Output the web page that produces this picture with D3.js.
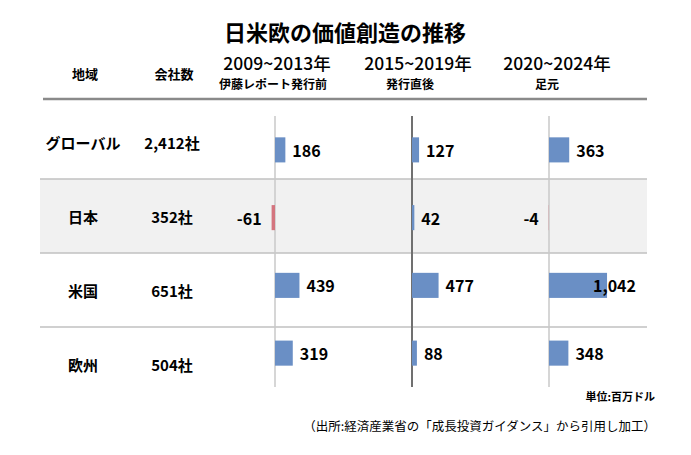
<!DOCTYPE html>
<html>
<head>
<meta charset="utf-8">
<script src="https://cdn.jsdelivr.net/npm/d3@7"></script>
<style>
  body { margin: 0; background: #fff; }
  text { font-family: "Noto Sans CJK JP", "Noto Sans", sans-serif; fill: #000; }
</style>
</head>
<body>
<div id="chart"></div>
<script>
// data
var regions = ["グローバル", "日本", "米国", "欧州"];
var companies = ["2,412社", "352社", "651社", "504社"];
var periods = ["2009~2013年", "2015~2019年", "2020~2024年"];
var periodNotes = ["伊藤レポート発行前", "発行直後", "足元"];
var values2009 = [186, -61, 439, 319];
var values2015 = [127, 42, 477, 88];
var values2020 = [363, -4, 1042, 348];
var allValues = [values2009, values2015, values2020];

var w = 691, h = 455;
var blue = "#6a8fc5", red = "#d4757f";
var fmt = d3.formatLocale({decimal: ".", thousands: ",", grouping: [3], currency: ["", ""], minus: "-"}).format(",");

var svg = d3.select("#chart").append("svg")
  .attr("width", w)
  .attr("height", h);

svg.append("rect").attr("width", w).attr("height", h).attr("fill", "#fff");

// scales
var xPeriod = d3.scaleBand().domain(periods).range([275, 686]);
var xVal = d3.scaleLinear().domain([0, 1000]).range([0, 55.7]);
var yRow = d3.scaleBand().domain(regions).range([105, 401]);
var yBar = d3.scaleBand().domain(regions).range([116, 387]);
var barH = yBar.bandwidth() * 0.37;

// title
svg.append("text")
  .attr("x", 345).attr("y", 31)
  .attr("text-anchor", "middle").attr("dominant-baseline", "central")
  .attr("font-size", "22px").attr("font-weight", "bold")
  .text("日米欧の価値創造の推移");

// header labels
svg.append("text").attr("x", 85).attr("y", 73)
  .attr("text-anchor", "middle").attr("dominant-baseline", "central")
  .attr("font-size", "13px").attr("font-weight", "bold").text("地域");
svg.append("text").attr("x", 174).attr("y", 73)
  .attr("text-anchor", "middle").attr("dominant-baseline", "central")
  .attr("font-size", "13px").attr("font-weight", "bold").text("会社数");

var yearOffsets = [2, 6, 8];
periods.forEach(function(p, i) {
  svg.append("text")
    .attr("x", xPeriod(p) + yearOffsets[i]).attr("y", 62)
    .attr("text-anchor", "middle").attr("dominant-baseline", "central")
    .attr("font-size", "17.5px").attr("font-weight", "500")
    .text(p);
  svg.append("text")
    .attr("x", xPeriod(p) - 2).attr("y", 83)
    .attr("text-anchor", "middle").attr("dominant-baseline", "central")
    .attr("font-size", "12px").attr("font-weight", "bold")
    .text(periodNotes[i]);
});

// row background for 日本
svg.append("rect")
  .attr("x", 40).attr("width", 607)
  .attr("y", yRow("日本")).attr("height", yRow.bandwidth())
  .attr("fill", "#f1f1f1");

// row separators
regions.slice(1).forEach(function(r) {
  svg.append("line")
    .attr("x1", 40).attr("x2", 647)
    .attr("y1", yRow(r)).attr("y2", yRow(r))
    .attr("stroke", "#c0c0c0").attr("stroke-width", 1.5);
});

// header rule
svg.append("line")
  .attr("x1", 43).attr("x2", 647)
  .attr("y1", 99).attr("y2", 99)
  .attr("stroke", "#8a8a8a").attr("stroke-width", 2.5);

// zero lines per period
periods.forEach(function(p, i) {
  svg.append("line")
    .attr("x1", xPeriod(p)).attr("x2", xPeriod(p))
    .attr("y1", 116).attr("y2", 387)
    .attr("stroke", i == 1 ? "#707070" : "#c8c8c8")
    .attr("stroke-width", i == 1 ? 2 : 1.5);
});

// region + company labels
regions.forEach(function(r, i) {
  var cy = yRow(r) + yRow.bandwidth() / 2;
  svg.append("text").attr("x", 83).attr("y", cy)
    .attr("text-anchor", "middle").attr("dominant-baseline", "central")
    .attr("font-size", "15px").attr("font-weight", "bold").text(r);
  svg.append("text").attr("x", 172).attr("y", cy)
    .attr("text-anchor", "middle").attr("dominant-baseline", "central")
    .attr("font-size", "15px").attr("font-weight", "bold").text(companies[i]);
});

// bars and value labels
periods.forEach(function(p, pi) {
  var x0 = xPeriod(p);
  var g = svg.append("g");
  g.selectAll("rect")
    .data(allValues[pi])
    .enter()
    .append("rect")
    .attr("x", function(d) { return d < 0 ? x0 - xVal(-d) : x0; })
    .attr("width", function(d) { return xVal(Math.abs(d)); })
    .attr("y", function(d, i) { return yBar(regions[i]) + (yBar.bandwidth() - barH) / 2; })
    .attr("height", barH)
    .attr("fill", function(d) { return d < 0 ? red : blue; });

  g.selectAll("text")
    .data(allValues[pi])
    .enter()
    .append("text")
    .attr("y", function(d, i) { return yBar(regions[i]) + yBar.bandwidth() / 2; })
    .attr("dominant-baseline", "central")
    .attr("font-size", "16px").attr("font-weight", "bold")
    .attr("text-anchor", function(d) { return d < 0 ? "end" : "start"; })
    .text(function(d) { return fmt(d); })
    .attr("x", function(d) {
      if (d < 0) return x0 - xVal(-d) - 10;
      var tw = this.getComputedTextLength();
      return Math.min(x0 + xVal(d) + 7, 636 - tw);
    });
});

// footnotes
svg.append("text").attr("x", 655).attr("y", 396)
  .attr("text-anchor", "end").attr("dominant-baseline", "central")
  .attr("font-size", "11px").attr("font-weight", "bold").text("単位:百万ドル");
svg.append("text").attr("x", 656).attr("y", 425)
  .attr("text-anchor", "end").attr("dominant-baseline", "central")
  .attr("font-size", "12.5px").text("（出所:経済産業省の「成長投資ガイダンス」から引用し加工）");
</script>
</body>
</html>
